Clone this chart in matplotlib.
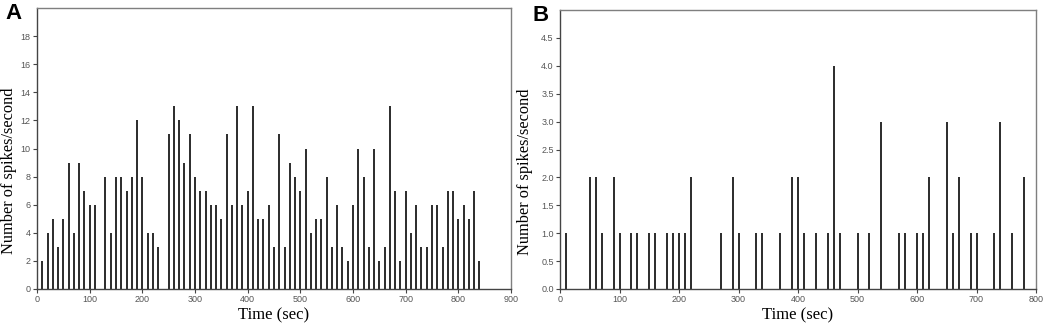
import matplotlib
matplotlib.use("Agg")
import matplotlib.pyplot as plt
import numpy as np

# ---- Panel A: spikes per second (one bin every 10 s) ----
tiempo_a = np.arange(10, 850, 10)
spikes_a = [2, 4, 5, 3, 5, 9, 4, 9, 7, 6, 6, 0, 8, 4, 8, 8, 7, 8, 12, 8,
            4, 4, 3, 0, 11, 13, 12, 9, 11, 8, 7, 7, 6, 6, 5, 11, 6, 13, 6, 7,
            13, 5, 5, 6, 3, 11, 3, 9, 8, 7, 10, 4, 5, 5, 8, 3, 6, 3, 2, 6,
            10, 8, 3, 10, 2, 3, 13, 7, 2, 7, 4, 6, 3, 3, 6, 6, 3, 7, 7, 5,
            6, 5, 7, 2]

# ---- Panel B ----
tiempo_b = [10, 50, 60, 70, 90, 100, 120, 130, 150, 160, 180, 190, 200, 210,
            220, 270, 290, 300, 330, 340, 370, 390, 400, 410, 430, 450, 460,
            470, 500, 520, 540, 570, 580, 600, 610, 620, 650, 660, 670, 690,
            700, 730, 740, 760, 780]
spikes_b = [1, 2, 2, 1, 2, 1, 1, 1, 1, 1, 1, 1, 1, 1,
            2, 1, 2, 1, 1, 1, 1, 2, 2, 1, 1, 1, 4,
            1, 1, 1, 3, 1, 1, 1, 1, 2, 3, 1, 2, 1,
            1, 1, 3, 1, 2]

W, H = 1045, 324
fig = plt.figure(figsize=(W / 100, H / 100), dpi=100)

ax_a = fig.add_axes([37 / W, 1 - 289 / H, (511 - 37) / W, (289 - 8) / H])
ax_b = fig.add_axes([560 / W, 1 - 289 / H, (1036 - 560) / W, (289 - 10) / H])

gris = "#7f7f7f"
serif = ["Liberation Serif", "DejaVu Serif"]
sans = ["Liberation Sans", "DejaVu Sans"]


def estilo(ax, xlim, ylim, yticks, fmt, xlab):
    ax.set_xlim(*xlim)
    ax.set_ylim(*ylim)
    ax.set_yticks(yticks)
    ax.set_yticklabels([fmt.format(v) for v in yticks])
    for s in ax.spines.values():
        s.set_color(gris)
        s.set_linewidth(1.0)
    ax.spines["bottom"].set_color("#444444")
    ax.spines["left"].set_color("#444444")
    ax.tick_params(axis="both", length=3, width=0.8, color="#444444",
                   labelsize=6.5, labelcolor="#555555", pad=1.5)
    for lab in ax.get_xticklabels() + ax.get_yticklabels():
        lab.set_family(sans)
    ax.set_xlabel("Time (sec)", family=serif, fontsize=12, labelpad=2)
    ax.set_ylabel("Number of spikes/second", family=serif, fontsize=11.8)
    # the label sits a bit below the middle of the axis in the original
    ax.yaxis.set_label_coords(xlab, 0.42)


ax_a.vlines(tiempo_a, 0, spikes_a, colors="#1a1a1a", linewidth=1.3)
estilo(ax_a, (0, 900), (0, 20), np.arange(0, 20, 2), "{:.0f}", -0.043)
ax_a.set_xticks(np.arange(0, 1000, 100))

ax_b.vlines(tiempo_b, 0, spikes_b, colors="#1a1a1a", linewidth=1.3)
estilo(ax_b, (0, 800), (0, 5), np.arange(0, 5, 0.5), "{:.1f}", -0.056)
ax_b.set_xticks(np.arange(0, 900, 100))

fig.text(5 / W, 1 - 19 / H, "A", family=sans, fontsize=16, fontweight="bold")
fig.text(533 / W, 1 - 21 / H, "B", family=sans, fontsize=16, fontweight="bold")

fig.savefig("out.png", dpi=100)
